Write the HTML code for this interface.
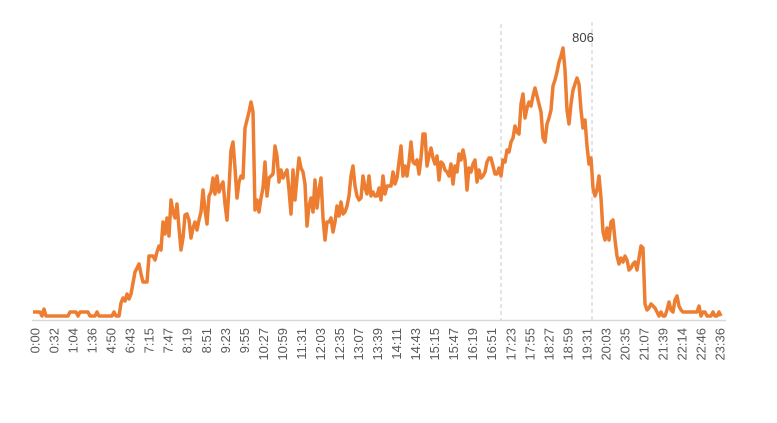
<!DOCTYPE html>
<html><head><meta charset="utf-8"><style>
html,body{margin:0;padding:0;background:#fff;}
svg{display:block;}
text{font-family:"Liberation Sans",sans-serif;}
</style></head><body>
<svg width="777" height="423" viewBox="0 0 777 423">
<line x1="501" y1="24" x2="501" y2="320" stroke="#c8c8c8" stroke-dasharray="4,3" stroke-width="1"/>
<line x1="592" y1="22" x2="592" y2="320" stroke="#c8c8c8" stroke-dasharray="4,3" stroke-width="1"/>
<line x1="32" y1="320.5" x2="726" y2="320.5" stroke="#d9d9d9" stroke-width="1.5"/>
<polyline fill="none" stroke="#ED7D31" stroke-width="3.5" stroke-linejoin="round" points="33,312 40,312 42,316 44,309 46,316 68,316 70,312 76,312 78,316 80,312 88,312 90,316 95,316 97,312 99,316 112,316 114,312 116,316 119,316 121,303 123,298 125,301 127,294 129,299 131,294 133,283 135,272 137,268 139,264 141,274 143,282 147,282 149,256 153,256 155,260 157,252 159,246 161,250 163,222 165,234 167,218 169,236 171,200 173,212 175,218 177,204 179,228 181,250 183,238 185,215 187,214 189,220 191,238 193,228 195,222 197,230 199,220 201,212 203,190 205,210 207,224 209,196 211,192 213,178 215,194 217,176 219,192 221,186 223,182 225,204 227,220 229,188 231,150 233,142 235,168 237,198 239,182 241,176 243,178 245,128 247,120 249,112 251,102 253,112 255,210 257,200 259,212 261,198 263,188 265,162 267,196 269,178 271,176 273,174 275,146 277,156 279,182 281,170 283,178 285,174 287,170 289,190 291,214 293,170 295,200 297,178 299,158 301,168 303,172 305,184 307,226 309,206 311,198 313,212 315,180 317,208 319,190 321,178 323,218 325,240 327,222 329,222 331,218 333,232 335,222 337,206 339,216 341,202 343,214 345,212 347,206 349,196 351,176 353,166 355,186 357,196 359,200 361,198 363,176 365,188 367,194 369,176 371,196 373,192 375,196 377,196 379,188 381,200 383,176 385,194 387,186 389,186 391,186 393,172 395,184 397,178 399,162 401,146 403,176 405,166 407,176 409,162 411,142 413,162 415,164 417,160 419,174 421,158 423,134 425,134 427,166 429,156 431,148 433,158 435,164 437,156 439,180 441,162 443,164 445,170 447,172 449,176 451,164 453,184 455,166 457,172 459,154 461,160 463,150 465,160 467,190 469,168 471,172 473,164 475,160 477,182 479,170 481,178 483,176 485,172 487,162 489,158 491,158 493,166 495,174 497,174 499,168 501,176 503,160 505,162 507,150 509,152 511,142 513,138 515,126 517,132 519,134 521,104 523,94 525,118 527,108 529,102 531,106 533,96 535,88 537,96 539,104 541,112 543,138 545,142 547,124 549,118 551,110 553,86 555,80 557,72 559,62 561,56 563,48 565,70 567,110 569,124 571,104 573,90 575,84 577,78 579,84 581,110 583,128 585,120 587,146 589,164 591,158 593,188 595,196 597,190 599,176 601,198 603,232 605,240 607,228 609,240 611,222 613,220 615,240 617,256 619,264 621,258 623,262 625,256 627,260 629,270 631,268 633,264 635,262 637,270 639,258 641,246 643,248 645,304 647,310 649,308 651,304 655,308 657,312 659,316 661,312 663,316 665,316 667,310 669,302 671,310 673,312 675,300 677,296 679,306 681,310 683,312 697,312 699,306 701,316 703,312 705,312 707,316 711,316 713,312 715,316 717,316 719,312 721,316"/>
<text x="583" y="42" font-size="13" fill="#404040" text-anchor="middle">806</text>
<g id="lbl" font-size="13" fill="#595959" text-anchor="end"></g>
</svg>
<script>
var L=["0:00","0:32","1:04","1:36","4:50","6:43","7:15","7:47","8:19","8:51","9:23","9:55","10:27","10:59","11:31","12:03","12:35","13:07","13:39","14:11","14:43","15:15","15:47","16:19","16:51","17:23","17:55","18:27","18:59","19:31","20:03","20:35","21:07","21:39","22:14","22:46","23:36"];
var g=document.getElementById("lbl"),s="";
for(var i=0;i<L.length;i++){var x=35+i*19.03+4.5;s+='<text transform="translate('+x.toFixed(1)+',328) rotate(-90)">'+L[i]+'</text>';}
g.innerHTML=s;
</script>
</body></html>
